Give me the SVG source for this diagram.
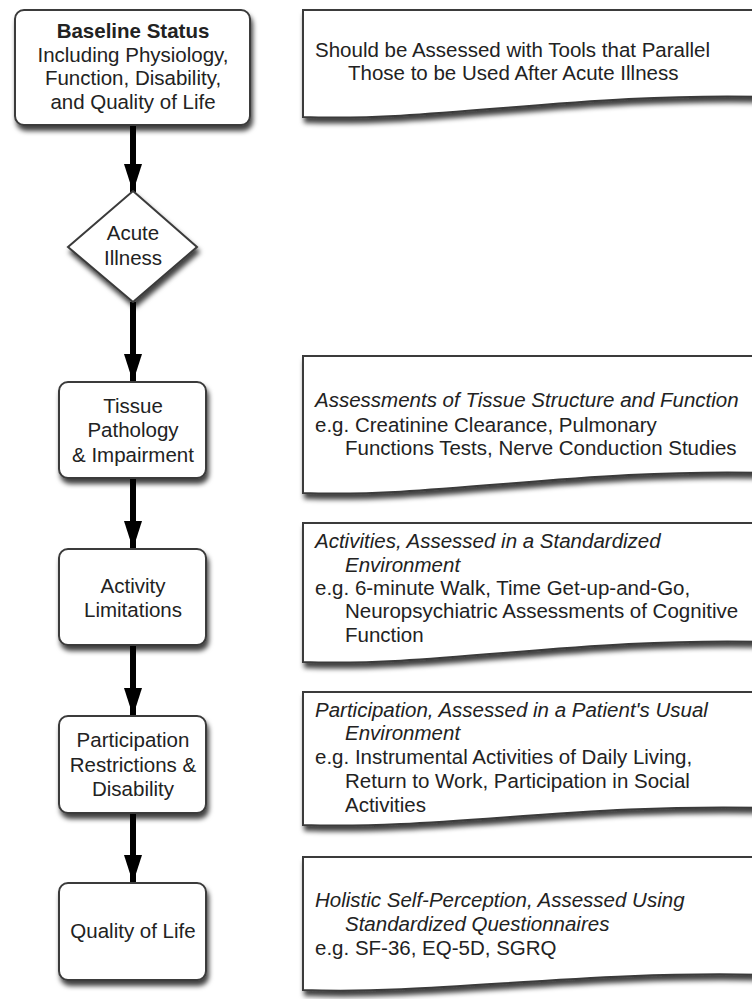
<svg xmlns="http://www.w3.org/2000/svg" width="752" height="999" viewBox="0 0 752 999">
<style>
  .box { fill: #ffffff; stroke: #3a3a3a; stroke-width: 2; filter: url(#sh); }
  .doc { fill: #ffffff; stroke: #3a3a3a; stroke-width: 2; filter: url(#sh); }
  .t { font-family: "Liberation Sans", Arial, sans-serif; font-size: 20.5px; fill: #222; }
  .c { text-anchor: middle; }
  .i { font-style: italic; }
  .b { font-weight: bold; }
  .arr { stroke: #000; stroke-width: 6; fill: none; marker-end: url(#ah); }
</style>
<defs>
  <filter id="sh" x="-10%" y="-10%" width="130%" height="140%">
    <feDropShadow dx="2" dy="5" stdDeviation="2.5" flood-color="#000" flood-opacity="0.75"/>
  </filter>
  <marker id="ah" viewBox="0 0 28 18" refX="28" refY="9" markerWidth="4.67" markerHeight="3" markerUnits="strokeWidth" orient="auto">
    <path d="M0,0 L28,9 L0,18 Z" fill="#000"/>
  </marker>
</defs>
<rect width="752" height="999" fill="#ffffff"/>

<g id="connectors">
  <line class="arr" x1="133" y1="126" x2="133" y2="192"/>
  <line class="arr" x1="133" y1="302" x2="133" y2="382"/>
  <line class="arr" x1="133" y1="479" x2="133" y2="549"/>
  <line class="arr" x1="133" y1="646" x2="133" y2="716"/>
  <line class="arr" x1="133" y1="814" x2="133" y2="883"/>
</g>

<g id="baseline">
  <rect class="box" x="15" y="10" width="235" height="115" rx="9"/>
  <text class="t c b" x="133" y="38">Baseline Status</text>
  <text class="t c" x="133" y="62">Including Physiology,</text>
  <text class="t c" x="133" y="85">Function, Disability,</text>
  <text class="t c" x="133" y="109">and Quality of Life</text>
</g>

<g id="acute">
  <polygon class="box" points="133,191 197,247 133,302 68,247"/>
  <text class="t c" x="133" y="240">Acute</text>
  <text class="t c" x="133" y="265">Illness</text>
</g>

<g id="tissue">
  <rect class="box" x="59" y="382" width="147" height="96" rx="9"/>
  <text class="t c" x="133" y="413">Tissue</text>
  <text class="t c" x="133" y="437">Pathology</text>
  <text class="t c" x="133" y="462">&amp; Impairment</text>
</g>

<g id="activity">
  <rect class="box" x="59" y="549" width="147" height="96" rx="9"/>
  <text class="t c" x="133" y="593">Activity</text>
  <text class="t c" x="133" y="617">Limitations</text>
</g>

<g id="participation">
  <rect class="box" x="59" y="716" width="147" height="97" rx="9"/>
  <text class="t c" x="133" y="747">Participation</text>
  <text class="t c" x="133" y="772">Restrictions &amp;</text>
  <text class="t c" x="133" y="796">Disability</text>
</g>

<g id="quality">
  <rect class="box" x="59" y="883" width="147" height="97" rx="9"/>
  <text class="t c" x="133" y="938">Quality of Life</text>
</g>

<g id="note-baseline">
  <path class="doc" d="M303,10 L770,10 L770,97 C580,92 440,122 303,117 Z"/>
  <text class="t" x="315" y="57">Should be Assessed with Tools that Parallel</text>
  <text class="t" x="348" y="80">Those to be Used After Acute Illness</text>
</g>

<g id="note-tissue">
  <path class="doc" d="M303,356 L770,356 L770,473 C580,468 440,498 303,493 Z"/>
  <text class="t i" x="315" y="407">Assessments of Tissue Structure and Function</text>
  <text class="t" x="315" y="432">e.g. Creatinine Clearance, Pulmonary</text>
  <text class="t" x="345" y="455">Functions Tests, Nerve Conduction Studies</text>
</g>

<g id="note-activity">
  <path class="doc" d="M303,523 L770,523 L770,642 C580,637 440,667 303,662 Z"/>
  <text class="t i" x="315" y="548">Activities, Assessed in a Standardized</text>
  <text class="t i" x="345" y="572">Environment</text>
  <text class="t" x="315" y="595">e.g. 6-minute Walk, Time Get-up-and-Go,</text>
  <text class="t" x="345" y="618">Neuropsychiatric Assessments of Cognitive</text>
  <text class="t" x="345" y="642">Function</text>
</g>

<g id="note-participation">
  <path class="doc" d="M303,692 L770,692 L770,808 C580,803 440,830 303,825 Z"/>
  <text class="t i" x="315" y="717">Participation, Assessed in a Patient's Usual</text>
  <text class="t i" x="345" y="740">Environment</text>
  <text class="t" x="315" y="764">e.g. Instrumental Activities of Daily Living,</text>
  <text class="t" x="345" y="788">Return to Work, Participation in Social</text>
  <text class="t" x="345" y="812">Activities</text>
</g>

<g id="note-quality">
  <path class="doc" d="M303,857 L770,857 L770,975 C580,970 440,995 303,990 Z"/>
  <text class="t i" x="315" y="907">Holistic Self-Perception, Assessed Using</text>
  <text class="t i" x="345" y="931">Standardized Questionnaires</text>
  <text class="t" x="315" y="955">e.g. SF-36, EQ-5D, SGRQ</text>
</g>
</svg>
